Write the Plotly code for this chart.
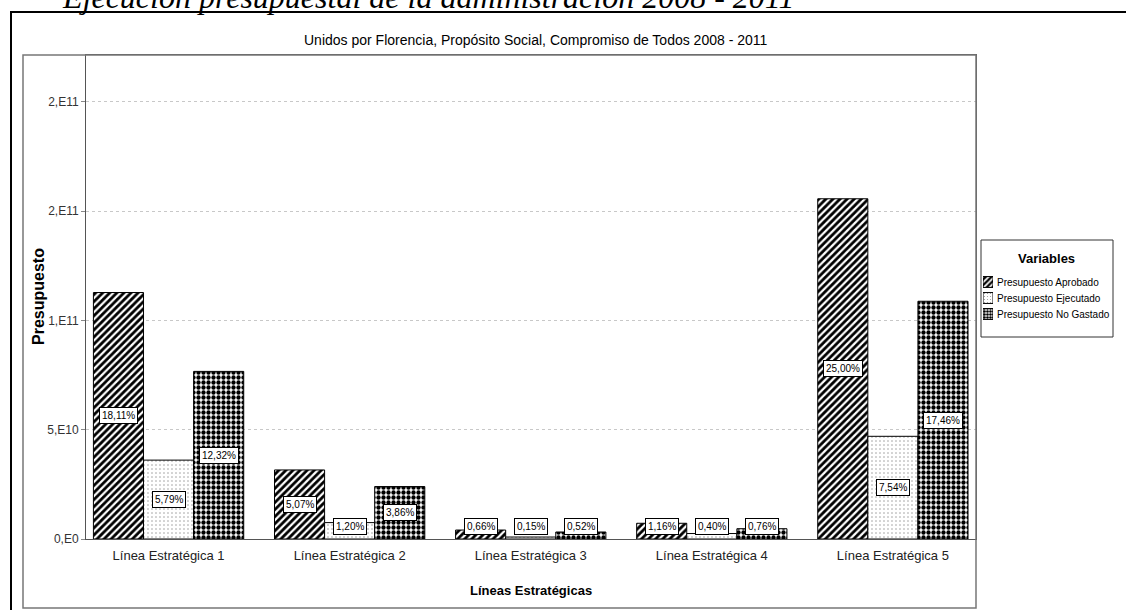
import plotly.graph_objects as go

categories = ["Línea Estratégica 1", "Línea Estratégica 2", "Línea Estratégica 3",
              "Línea Estratégica 4", "Línea Estratégica 5"]
series_names = ["Presupuesto Aprobado", "Presupuesto Ejecutado", "Presupuesto No Gastado"]
aprobado = [1.128e11, 3.16e10, 4.1e9, 7.2e9, 1.557e11]
ejecutado = [3.61e10, 7.5e9, 9.0e8, 2.5e9, 4.70e10]
no_gastado = [7.67e10, 2.40e10, 3.2e9, 4.7e9, 1.088e11]
pct_aprobado = ["18,11%", "5,07%", "0,66%", "1,16%", "25,00%"]
pct_ejecutado = ["5,79%", "1,20%", "0,15%", "0,40%", "7,54%"]
pct_no_gastado = ["12,32%", "3,86%", "0,52%", "0,76%", "17,46%"]
y_tickvals = [0, 5e10, 1e11, 1.5e11, 2e11]
y_ticktext = ["0,E0", "5,E10", "1,E11", "2,E11", "2,E11"]

FONT = "Liberation Sans Narrow, Arial Narrow, Liberation Sans, Arial, sans-serif"

W, H = 1126, 610
L, R, T, B = 86, 976, 55, 539  # plot area in pixels


def fx(p):
    return p / W


def fy(p):
    return (H - p) / H


bargap = 0.17
x = list(range(len(categories)))
series = [aprobado, ejecutado, no_gastado]
pcts = [pct_aprobado, pct_ejecutado, pct_no_gastado]
pat_shape = ["/", ".", "."]
pat_fg = ["black", "#9a9a9a", "black"]
pat_size = [5, 4, 5]
pat_sol = [0.55, 0.12, 0.6]

fig = go.Figure()
for k, (name, vals) in enumerate(zip(series_names, series)):
    fig.add_trace(go.Bar(
        x=x, y=vals, name=name, showlegend=False,
        marker=dict(color="white",
                    pattern=dict(shape=pat_shape[k], fgcolor=pat_fg[k], bgcolor="white",
                                 size=pat_size[k], solidity=pat_sol[k], fillmode="replace"),
                    line=dict(color="black", width=1)),
        xaxis="x", yaxis="y",
    ))

# legend swatches (drawn as tiny bars on their own axes)
fig.add_trace(go.Bar(
    x=[1, 1, 1], y=[0, 1, 2], orientation="h", showlegend=False, hoverinfo="skip",
    width=0.68,
    marker=dict(color="white",
                pattern=dict(shape=pat_shape, fgcolor=pat_fg, bgcolor="white",
                             size=[4, 3, 3], solidity=pat_sol, fillmode="replace"),
                line=dict(color="black", width=1)),
    xaxis="x2", yaxis="y2",
))

annotations = []
w = (1 - bargap) / 3
for k, (vals, labs) in enumerate(zip(series, pcts)):
    off = (k - 1) * w
    for i, (v, lab) in enumerate(zip(vals, labs)):
        annotations.append(dict(
            x=i + off, y=max(v / 2, 5.8e9), xref="x", yref="y", text=lab,
            showarrow=False, bgcolor="white", bordercolor="black", borderwidth=1,
            borderpad=2, font=dict(family=FONT, size=10, color="black"),
        ))

# titles
annotations.append(dict(
    x=fx((L + R) / 2 + 4), y=fy(40), xref="paper", yref="paper", showarrow=False,
    text="Unidos por Florencia, Propósito Social, Compromiso de Todos 2008 - 2011",
    font=dict(family=FONT, size=14, color="black"), xanchor="center", yanchor="middle"))
annotations.append(dict(
    x=fx(38), y=fy(297), xref="paper", yref="paper", showarrow=False, textangle=-90,
    text="<b>Presupuesto</b>", font=dict(family=FONT, size=16, color="black"),
    xanchor="center", yanchor="middle"))
annotations.append(dict(
    x=fx((L + R) / 2), y=fy(590), xref="paper", yref="paper", showarrow=False,
    text="<b>Líneas Estratégicas</b>", font=dict(family=FONT, size=13, color="black"),
    xanchor="center", yanchor="middle"))
annotations.append(dict(
    x=fx(60), y=fy(-3), xref="paper", yref="paper", showarrow=False,
    text="<i>Ejecución presupuestal de la administración 2008 - 2011</i>",
    font=dict(family="Liberation Serif, Times New Roman, serif", size=32, color="black"),
    xanchor="left", yanchor="middle"))

# legend texts
annotations.append(dict(
    x=fx(1046), y=fy(258), xref="paper", yref="paper", showarrow=False,
    text="<b>Variables</b>", font=dict(family=FONT, size=13, color="black"),
    xanchor="center", yanchor="middle"))
for k, name in enumerate(series_names):
    annotations.append(dict(
        x=fx(995), y=fy(282 + 16 * k), xref="paper", yref="paper", showarrow=False,
        text=name, font=dict(family=FONT, size=10, color="black"),
        xanchor="left", yanchor="middle"))

shapes = [
    # outer frame
    dict(type="rect", xref="paper", yref="paper", x0=fx(11), x1=fx(1140),
         y0=fy(640), y1=fy(12), line=dict(color="black", width=2)),
    # inner chart box
    dict(type="rect", xref="paper", yref="paper", x0=fx(23), x1=fx(976),
         y0=fy(608), y1=fy(55), line=dict(color="#777777", width=1.5)),
    # legend box
    dict(type="rect", xref="paper", yref="paper", x0=fx(981), x1=fx(1113),
         y0=fy(337), y1=fy(240), line=dict(color="#333333", width=1)),
]

fig.update_layout(
    width=W, height=H,
    margin=dict(l=0, r=0, t=0, b=0, pad=0, autoexpand=False),
    paper_bgcolor="white", plot_bgcolor="white",
    barmode="group", bargap=bargap, bargroupgap=0,
    font=dict(family=FONT, size=12, color="#222222"),
    annotations=annotations, shapes=shapes,
    showlegend=False,
    xaxis=dict(
        domain=[fx(L), fx(R)],
        range=[-0.456, 4.459], tickvals=x, ticktext=categories,
        showline=True, linecolor="#555555", linewidth=1, mirror=True,
        showgrid=False, zeroline=False, ticks="", automargin=False,
        ticklabelstandoff=4,
        tickfont=dict(family=FONT, size=13, color="#222222"),
    ),
    yaxis=dict(
        domain=[fy(B), fy(T)],
        range=[0, 2.215e11], tickvals=y_tickvals, ticktext=y_ticktext,
        showline=True, linecolor="#555555", linewidth=1, mirror=True,
        showgrid=True, gridcolor="#c8c8c8", griddash="dot", gridwidth=1,
        zeroline=False, ticks="outside", ticklen=4, tickcolor="#888888",
        automargin=False,
        tickfont=dict(family=FONT, size=12, color="#333333"),
    ),
    xaxis2=dict(
        domain=[fx(983), fx(993)], range=[0, 1], anchor="y2",
        visible=False, fixedrange=True,
    ),
    yaxis2=dict(
        domain=[fy(282 + 16 * 2 + 8), fy(282 - 8)], range=[2.5, -0.5], anchor="x2",
        visible=False, fixedrange=True,
    ),
)

fig.write_html("out.html")
